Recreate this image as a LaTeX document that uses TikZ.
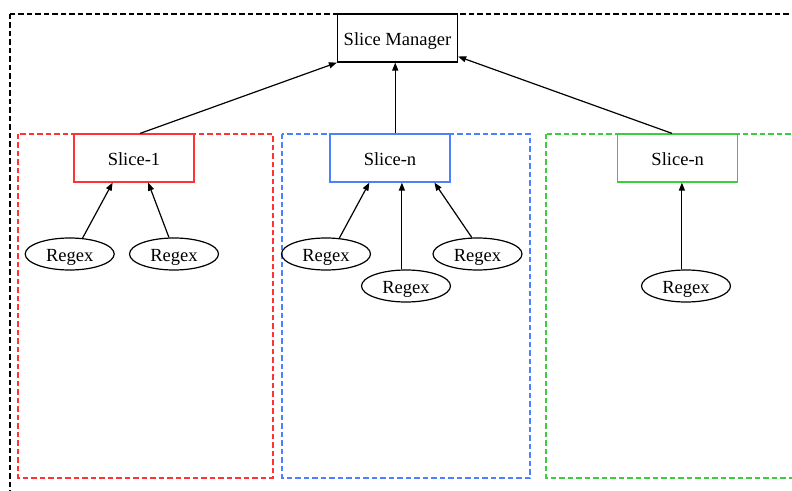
\documentclass[tikz,border=0pt]{standalone}
\usepackage{fontspec}
\setmainfont{Liberation Serif}
\usetikzlibrary{arrows.meta,shapes.geometric}
\definecolor{slicered}{RGB}{255,51,51}
\definecolor{sliceblue}{RGB}{77,128,255}
\definecolor{slicegreen}{RGB}{60,205,60}

\begin{document}
\begin{tikzpicture}[x=1bp,y=-1bp,line width=1.2bp,
    every node/.style={font=\fontsize{18.6}{22}\selectfont,text height=14.2bp,text depth=0bp},
    slicebox/.style={draw,rectangle,minimum width=120bp,minimum height=48bp},
    regexnode/.style={draw,ellipse,minimum width=89bp,minimum height=32bp,inner sep=0pt},
    arr/.style={-{Triangle[length=8bp,width=6bp]}},
    cluster/.style={dash pattern=on 5.5bp off 3bp}]
  \useasboundingbox (0,0) rectangle (792,491);
  %\draw[very thin,color=gray] (0,0) grid[step=50] (792,491);
  \draw[cluster] (10,14) rectangle (820,520);
  \draw[cluster,slicered] (18,134) rectangle (273,478);
  \draw[cluster,sliceblue] (282,134) rectangle (530,478);
  \draw[cluster,slicegreen] (546,134) rectangle (830,478);
  \node[slicebox,fill=white] (sm) at (397.5,38) {Slice Manager};
  \node[slicebox,draw=slicered] (s1) at (134,158) {Slice-1};
  \node[slicebox,draw=sliceblue] (s2) at (390,158) {Slice-n};
  \node[slicebox,draw=slicegreen] (s3) at (677.7,158) {Slice-n};
  \node[regexnode] (r1) at (69.7,254) {Regex};
  \node[regexnode] (r2) at (174,254) {Regex};
  \node[regexnode] (b1) at (326,254) {Regex};
  \node[regexnode] (b2) at (406,286) {Regex};
  \node[regexnode] (b3) at (477.5,254) {Regex};
  \node[regexnode] (g1) at (686,286) {Regex};
  \draw[arr] (s1.76) -- (sm.south west);
  \draw[arr] (s2.78) -- (s2.78 |- sm.south);
  \draw[arr] (s3.103) -- (sm.343);
  \draw[arr] (r1.51) -- (s1.229);
  \draw[arr] (r2.107) -- (s1.300);
  \draw[arr] (b1.50) -- (s2.230);
  \draw[arr] (b2.104) -- (b2.104 |- s2.south);
  \draw[arr] (b3.109) -- (s2.331);
  \draw[arr] (g1.104) -- (g1.104 |- s3.south);
\end{tikzpicture}
\end{document}
